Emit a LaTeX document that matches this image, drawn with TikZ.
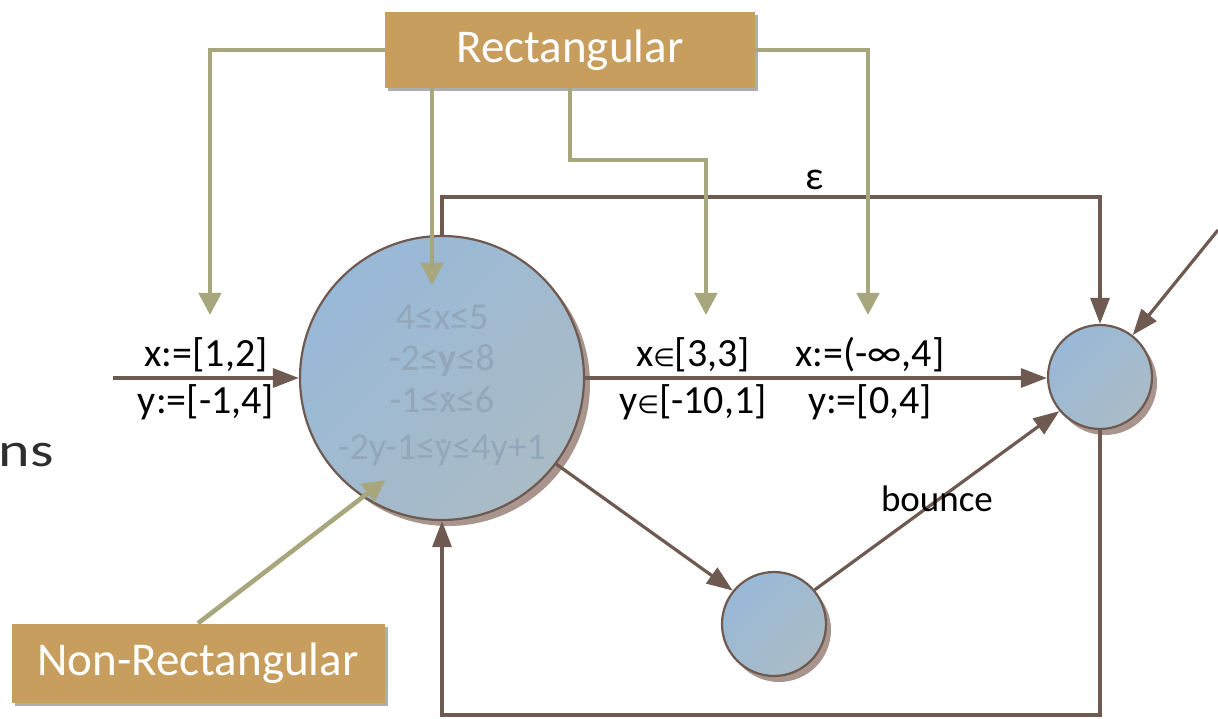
\documentclass[tikz,border=0pt]{standalone}
\usepackage{fontspec}
\setmainfont{Carlito}
\newfontfamily\dvs{DejaVu Sans}
\usetikzlibrary{arrows.meta,shadows}
\definecolor{edgebrown}{HTML}{6E5A50}
\definecolor{olive}{HTML}{A8A67C}
\definecolor{boxgold}{HTML}{C89E5E}
\definecolor{shadowbrown}{HTML}{A8968E}
\definecolor{faint}{HTML}{93A7BA}
\definecolor{cfillA}{HTML}{98B9D8}
\definecolor{cfillB}{HTML}{AABBC6}
\newcommand{\dy}{{\ooalign{y\cr\hidewidth\raisebox{0.42em}{.}\hidewidth\cr}}}
\newcommand{\dx}{{\ooalign{x\cr\hidewidth\raisebox{0.42em}{.}\hidewidth\cr}}}
\newcommand{\inn}{{\dvs\scalebox{0.62}{∈}}}
\tikzset{
  statebig/.style={circle, draw=edgebrown, line width=2.2pt, minimum size=284pt, inner sep=0pt,
    left color=cfillA, right color=cfillB, shading angle=45},
  statesmall/.style={circle, draw=edgebrown, line width=2.2pt, minimum size=104pt, inner sep=0pt,
    left color=cfillA, right color=cfillB, shading angle=45},
  shadowc/.style={circle, fill=shadowbrown, inner sep=0pt},
  goldbox/.style={fill=boxgold, text=white, inner sep=0pt,
    font=\fontsize{47}{56}\selectfont,
    drop shadow={shadow xshift=3pt, shadow yshift=-3pt, opacity=0.45, fill=black!70}},
  edge/.style={draw=edgebrown, line width=3.2pt, -{Triangle[length=26pt,width=19pt]}},
  oedge/.style={draw=olive, line width=4.6pt, -{Triangle[length=22pt,width=22pt]}},
  lbl/.style={font=\fontsize{40}{44}\selectfont, text=black, inner sep=0pt},
  inv/.style={font=\fontsize{38}{44}\selectfont, text=faint, inner sep=0pt, anchor=base}
}
\begin{document}
\begin{tikzpicture}[x=1pt,y=-1pt]
\useasboundingbox (0,0) rectangle (1218,719);
% shadows of circles
\node[shadowc, minimum size=284pt] (bigsh) at (448,384) {};
\node[shadowc, minimum size=104pt] (Rsh) at (1105,383) {};
\node[shadowc, minimum size=104pt] (Ssh) at (779,630) {};
% states
\node[statebig] (big) at (442,378) {};
\node[statesmall] (R) at (1100,377) {};
\node[statesmall] (S) at (774,624) {};
% invariant text
\node[inv] (i1) at (442,329) {4≤x≤5};
\node[inv] (i2) at (442,370) {-2≤\textbf{y}≤8};
\node[inv] (i3) at (442,412) {-1≤\dx≤6};
\node[inv] (i4) at (442,459) {-2y-1≤\dy≤4y+1};
% boxes
\node[goldbox, minimum width=370pt, minimum height=76pt] (rect) at (570,50) {Rectangular};
\node[goldbox, minimum width=373pt, minimum height=79pt] (nonrect) at (198,663) {Non-Rectangular};
% partial word
\node[font=\fontsize{48}{54}\selectfont, text=black!82, anchor=base east, inner sep=0pt] (ns) at (54,466) {\scalebox{1.25}[1]{ns}};
% coordinates
\coordinate (in1) at (113,378);
\coordinate (epsy) at (442,197);
\coordinate (boty) at (1100,715);
\coordinate (inR) at (1218,230);
\coordinate (o1) at (210,315);
\coordinate (o2) at (432,285);
\coordinate (o3a) at (570,160);
\coordinate (o3) at (706,315);
\coordinate (o4) at (868,315);
\coordinate (o5) at (385,480);
% brown edges
\draw[edge] (in1) -- (big.west);
\draw[edge] (big.east) -- (big.east -| R.west);
\draw[edge] (big.north) -- (epsy) -| (R.north);
\draw[edge] (R.south) -- (boty) -| (big.south);
\draw[edge] (big.-37.6) -- (S.141);
\draw[edge] (S.40) -- (R.220);
\draw[edge] (inR) -- (R.52);
% olive edges
\draw[oedge] (rect.west) -| (o1);
\draw[oedge] (rect.south -| o2) -- (o2);
\draw[oedge] (rect.south -| o3a) -- (o3a) -| (o3);
\draw[oedge] (rect.east) -| (o4);
\draw[oedge] (nonrect.north) -- (o5);
% labels
\node[lbl] (l1) at (206,355) {x:=[1,2]};
\node[lbl] (l2) at (206,402) {y:=[-1,4]};
\node[lbl] (l3) at (693,355) {x\inn[3,3]};
\node[lbl] (l4) at (693,402) {y\inn[-10,1]};
\node[lbl] (l5) at (870,355) {x:=(-∞,4]};
\node[lbl] (l6) at (870,402) {y:=[0,4]};
\node[lbl] (eps) at (815,180) {ε};
\node[lbl, font=\fontsize{37}{42}\selectfont] (bnc) at (937,499) {bounce};
\end{tikzpicture}
\end{document}
